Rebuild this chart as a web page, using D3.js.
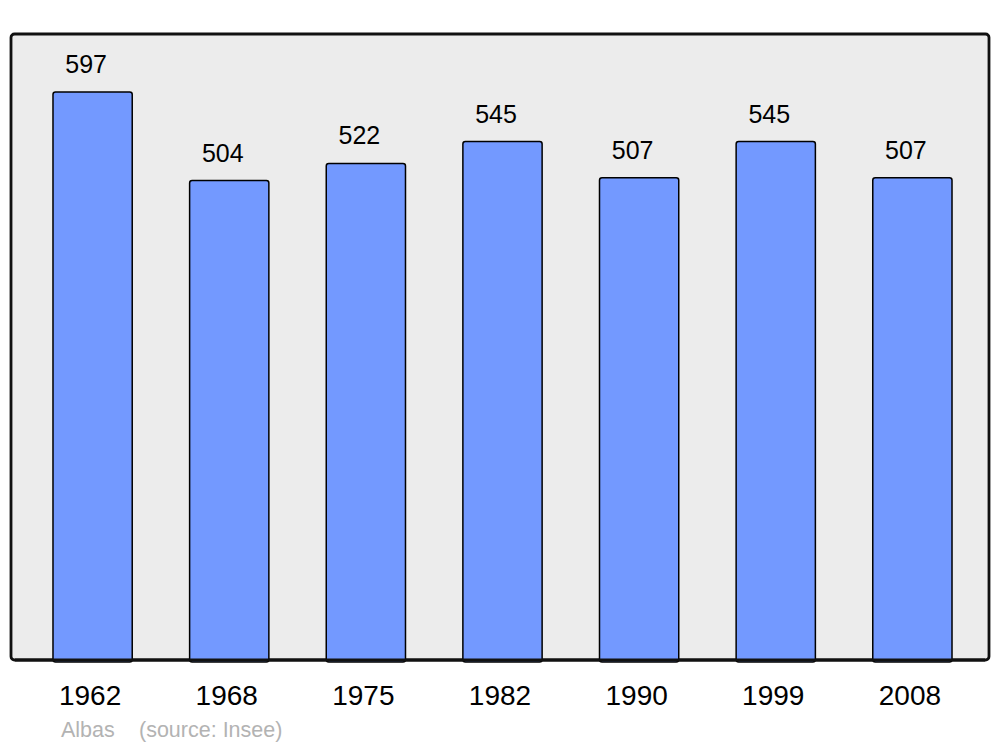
<!DOCTYPE html>
<html>
<head>
<meta charset="utf-8">
<script src="https://cdn.jsdelivr.net/npm/d3@7"></script>
<style>
  body { margin: 0; background: #fff; }
  text { font-family: "Liberation Sans", Arial, sans-serif; }
</style>
</head>
<body>
<div id="chart"></div>
<script>
var years = ["1962", "1968", "1975", "1982", "1990", "1999", "2008"];
var population = [597, 504, 522, 545, 507, 545, 507];
var commune = "Albas";
var source = "(source: Insee)";

var width = 1000, height = 747;
var frame = {left: 11, top: 34, right: 989, bottom: 660};

var svg = d3.select("#chart")
    .append("svg")
    .attr("width", width)
    .attr("height", height);

// grey plot frame
svg.append("rect")
    .attr("x", frame.left)
    .attr("y", frame.top)
    .attr("width", frame.right - frame.left)
    .attr("height", frame.bottom - frame.top)
    .attr("rx", 3.5)
    .attr("fill", "#ececec")
    .attr("stroke", "#111")
    .attr("stroke-width", 2.8);

var x = d3.scaleBand()
    .domain(years)
    .range([12, 993])
    .paddingInner(0.42)
    .paddingOuter(0.3);

var y = d3.scaleLinear()
    .domain([0, 658])
    .range([frame.bottom, frame.top]);

var data = years.map(function(d, i) { return {year: d, value: population[i]}; });

svg.selectAll(".bar")
    .data(data)
    .enter()
    .append("rect")
    .attr("class", "bar")
    .attr("x", function(d) { return x(d.year) })
    .attr("y", function(d) { return y(d.value) })
    .attr("width", x.bandwidth())
    .attr("height", function(d) { return y(0) - y(d.value) + 2 })
    .attr("rx", 2.5)
    .attr("fill", "#7399ff")
    .attr("stroke", "#000")
    .attr("stroke-width", 1.5);

// redraw bottom edge of frame over the bars
svg.append("line")
    .attr("x1", frame.left + 4)
    .attr("x2", frame.right - 4)
    .attr("y1", frame.bottom)
    .attr("y2", frame.bottom)
    .attr("stroke", "#111")
    .attr("stroke-width", 2.8);

// value labels
svg.selectAll(".val")
    .data(data)
    .enter()
    .append("text")
    .attr("class", "val")
    .attr("x", function(d) { return x(d.year) + x.bandwidth() / 2 - 6.5 })
    .attr("y", function(d) { return y(d.value) - 19 })
    .attr("text-anchor", "middle")
    .attr("font-size", 25)
    .attr("fill", "#000")
    .text(function(d) { return d.value });

// x axis labels
var xAxis = svg.append("g")
    .attr("transform", "translate(-2.5," + frame.bottom + ")")
    .call(d3.axisBottom(x).tickSize(0).tickPadding(0));
xAxis.select(".domain").remove();
xAxis.selectAll("text")
    .attr("font-family", "Liberation Sans, Arial, sans-serif")
    .attr("font-size", 28)
    .attr("fill", "#000")
    .attr("dy", null)
    .attr("y", 45);

svg.append("text")
    .attr("x", 61)
    .attr("y", 737)
    .attr("font-size", 21.5)
    .attr("fill", "#b3b3b3")
    .text(commune);

svg.append("text")
    .attr("x", 139)
    .attr("y", 737)
    .attr("font-size", 21.5)
    .attr("fill", "#b3b3b3")
    .text(source);
</script>
</body>
</html>
